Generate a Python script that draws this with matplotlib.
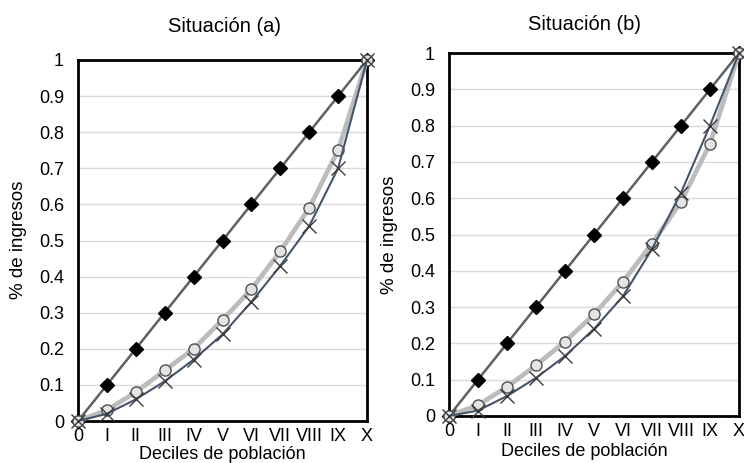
import matplotlib.pyplot as plt

deciles = list(range(11))
etiquetas = ['0', 'I', 'II', 'III', 'IV', 'V', 'VI', 'VII', 'VIII', 'IX', 'X']

igualdad = [0, 0.1, 0.2, 0.3, 0.4, 0.5, 0.6, 0.7, 0.8, 0.9, 1.0]

# Situación (a)
circulos_a = [0, 0.03, 0.08, 0.14, 0.20, 0.28, 0.365, 0.47, 0.59, 0.75, 1.0]
cruces_a = [0, 0.02, 0.06, 0.11, 0.17, 0.24, 0.33, 0.43, 0.54, 0.70, 1.0]

# Situación (b)
circulos_b = [0, 0.03, 0.08, 0.14, 0.205, 0.28, 0.37, 0.475, 0.59, 0.75, 1.0]
cruces_b = [0, 0.015, 0.055, 0.105, 0.165, 0.24, 0.33, 0.46, 0.615, 0.80, 1.0]

plt.rcParams['font.family'] = ['Liberation Sans', 'DejaVu Sans']

W, H = 744, 463
fig = plt.figure(figsize=(W / 100, H / 100), dpi=100)
ax_a = fig.add_axes([78 / W, 1 - 421 / H, 289 / W, 361 / H])
ax_b = fig.add_axes([449 / W, 1 - 416 / H, 290 / W, 363 / H])


def dibujar(ax, circulos, cruces):
    ax.plot(deciles, igualdad, color='#606060', linewidth=1.8, marker='D',
            markersize=7.5, markerfacecolor='black', markeredgecolor='black',
            clip_on=False, zorder=3)
    ax.plot(deciles, circulos, color='#bcbcbc', linewidth=3.4, marker='o',
            markersize=8, markerfacecolor='#e4e4e4', markeredgecolor='#505050',
            markeredgewidth=1.0, clip_on=False, zorder=4)
    ax.plot(deciles, cruces, color='#44546a', linewidth=1.5, marker='x',
            markersize=10, markeredgecolor='#3a3a3a', markeredgewidth=1.0,
            clip_on=False, zorder=5)
    ax.set_xlim(0, 10)
    ax.set_ylim(0, 1)
    ax.set_xticks(deciles)
    ax.set_xticklabels(etiquetas)
    ax.set_yticks([i / 10 for i in range(11)])
    ax.set_yticklabels(['0', '0.1', '0.2', '0.3', '0.4', '0.5', '0.6', '0.7',
                        '0.8', '0.9', '1'])
    ax.tick_params(axis='y', length=0, labelsize=13, pad=10)
    ax.tick_params(axis='x', length=0, labelsize=13, pad=5)
    ax.grid(axis='y', color='#d9d9d9', linewidth=1)
    ax.set_axisbelow(True)
    for s in ax.spines.values():
        s.set_linewidth(2)
        s.set_color('black')


dibujar(ax_a, circulos_a, cruces_a)
dibujar(ax_b, circulos_b, cruces_b)

# titulos y etiquetas de ejes
fig.text(224 / W, 1 - 26 / H, 'Situación (a)', fontsize=14.5, ha='center', va='center')
fig.text(584 / W, 1 - 25 / H, 'Situación (b)', fontsize=14.5, ha='center', va='center')
fig.text(19 / W, 1 - 240 / H, '% de ingresos', fontsize=13.5, rotation=90,
         ha='center', va='center')
fig.text(390 / W, 1 - 235 / H, '% de ingresos', fontsize=13.5, rotation=90,
         ha='center', va='center')
fig.text(222 / W, 1 - 446 / H, 'Deciles de población', fontsize=13,
         ha='center', va='top')
fig.text(584 / W, 1 - 443 / H, 'Deciles de población', fontsize=13,
         ha='center', va='top')

fig.savefig('out.png', dpi=100)
